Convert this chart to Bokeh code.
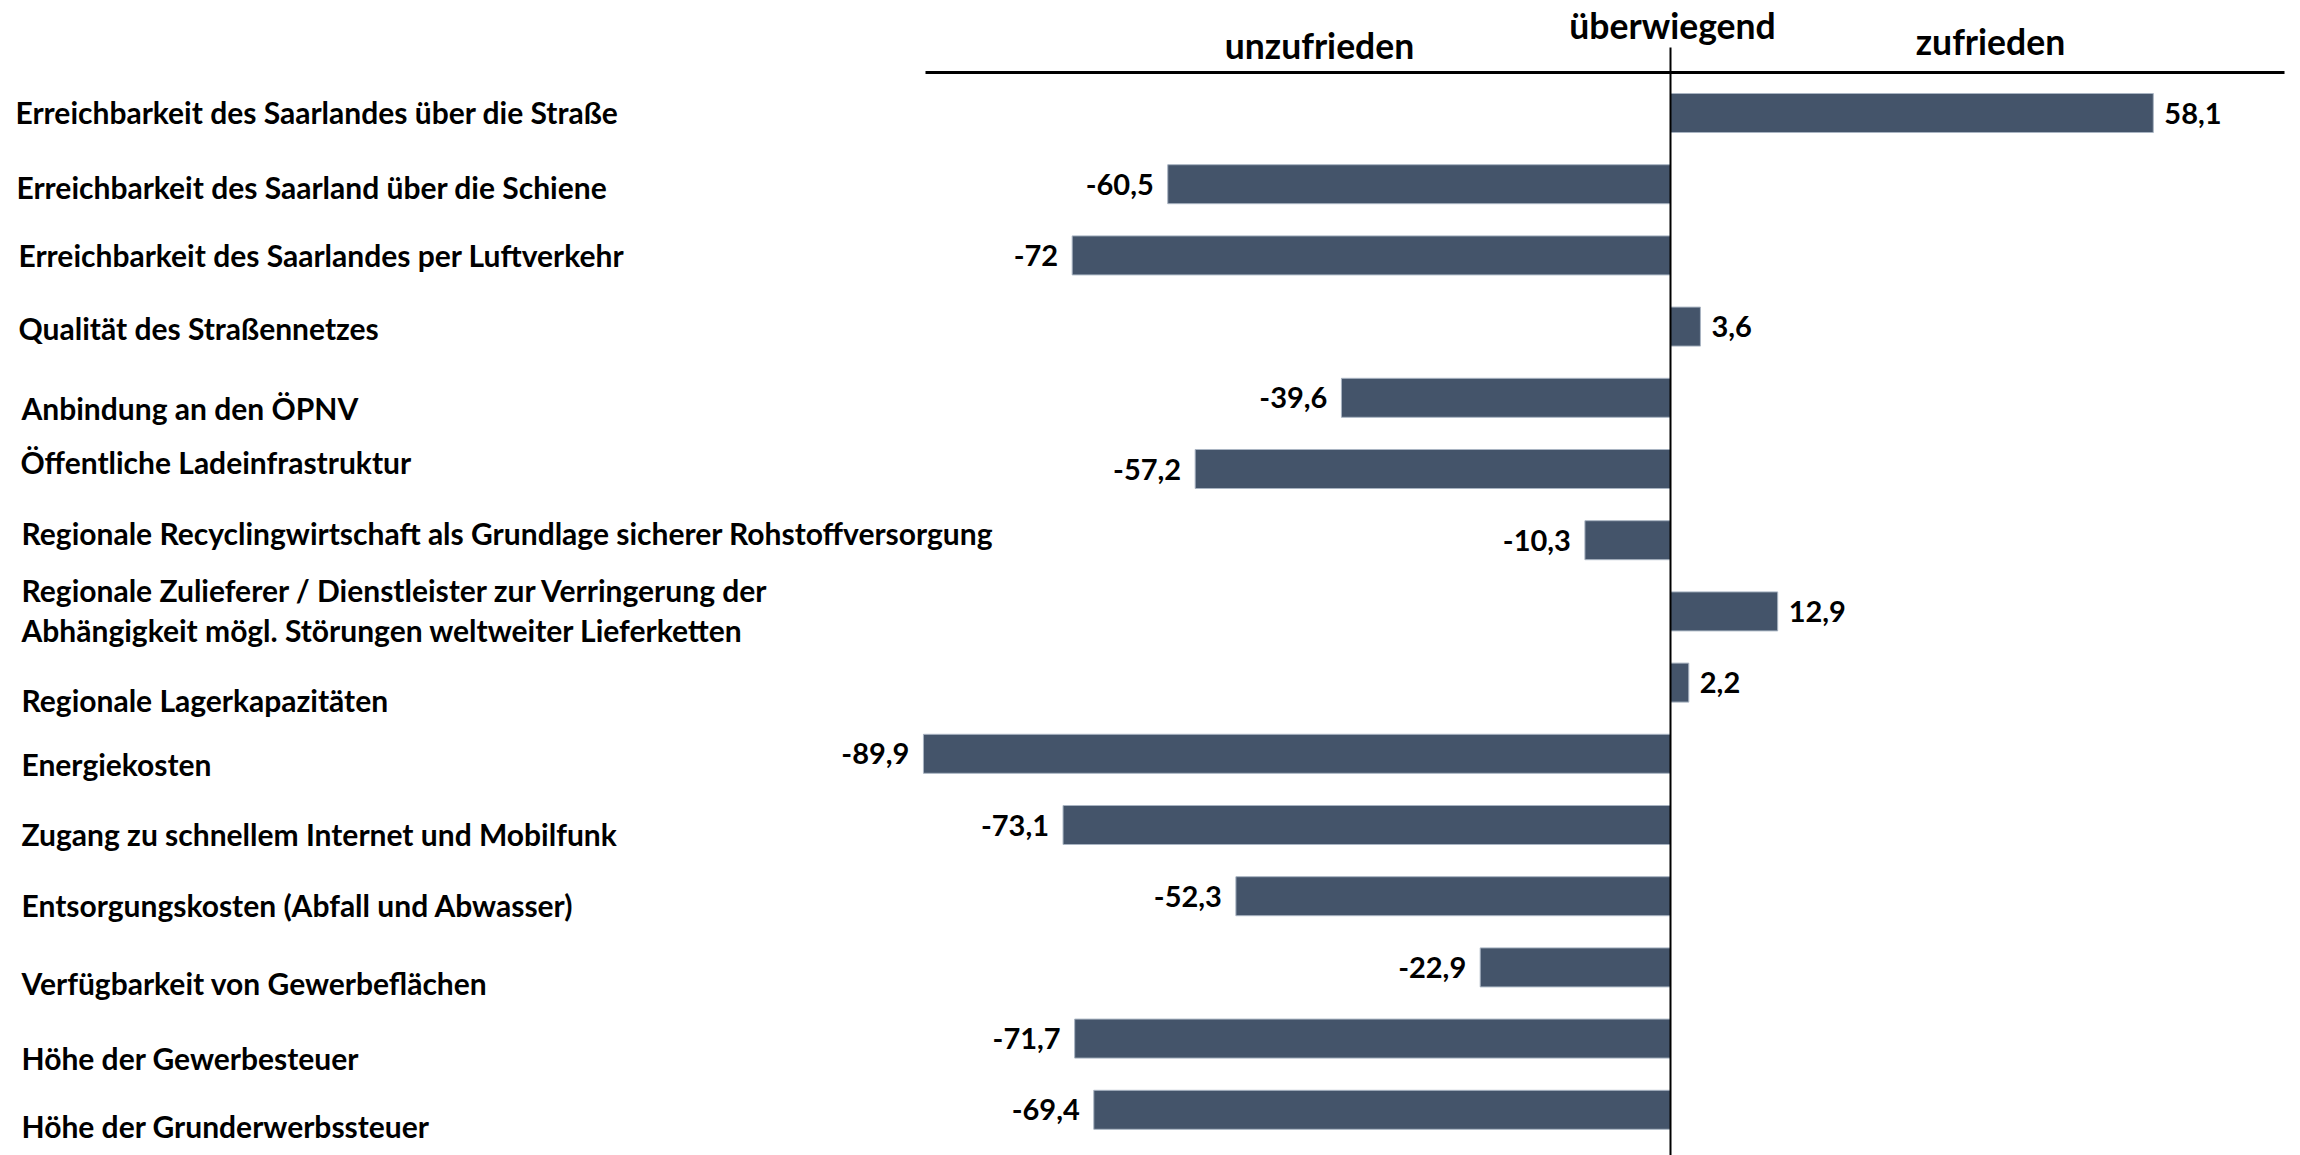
from bokeh.plotting import figure
from bokeh.models import Range1d, ColumnDataSource
from bokeh.core.properties import value
from bokeh.embed import file_html
from bokeh.resources import INLINE

# Satisfaction balance (share "zufrieden" minus "unzufrieden"), in percentage points
categories = [
    "Erreichbarkeit des Saarlandes über die Straße",
    "Erreichbarkeit des Saarland über die Schiene",
    "Erreichbarkeit des Saarlandes  per Luftverkehr",
    "Qualität des Straßennetzes",
    "Anbindung an den ÖPNV",
    "Öffentliche Ladeinfrastruktur",
    "Regionale Recyclingwirtschaft als Grundlage sicherer Rohstoffversorgung",
    "Regionale Zulieferer / Dienstleister zur Verringerung der\nAbhängigkeit mögl. Störungen weltweiter Lieferketten",
    "Regionale Lagerkapazitäten",
    "Energiekosten",
    "Zugang zu schnellem Internet und Mobilfunk",
    "Entsorgungskosten (Abfall und Abwasser)",
    "Verfügbarkeit von Gewerbeflächen",
    "Höhe der Gewerbesteuer",
    "Höhe der Grunderwerbssteuer",
]
balance = [58.1, -60.5, -72, 3.6, -39.6, -57.2, -10.3, 12.9, 2.2,
           -89.9, -73.1, -52.3, -22.9, -71.7, -69.4]
header_left = "unzufrieden"
header_mid = "überwiegend"
header_right = "zufrieden"

# ---- layout (pixels) ----
W, H = 2300, 1155
ZERO_PX = 1670          # horizontal position of the zero line
PX_PER_UNIT = 8.31      # pixels per percentage point
ROW0_PX = 112.5         # centre of the first row
ROW_STEP = 71.2         # distance between rows
BAR_PX = 39

BAR_COLOR = "#44546A"
FONT = value("Lato")

# small vertical shifts of the row captions (pixels)
label_dy_px = [-1.5, 3, 0, 1.5, 10, -7, -7, -1.5, 17.5, 10, 9, 9, 16, 19, 16]
label_x_px = [15, 16, 18, 18, 21, 20, 21, 21, 21, 21, 21, 21, 21, 21, 21]


def dx(px):
    return (px - ZERO_PX) / PX_PER_UNIT


def dy(py):
    return (py - ROW0_PX) / ROW_STEP


p = figure(
    width=W, height=H,
    x_range=Range1d(dx(0), dx(W)),
    y_range=Range1d(dy(H), dy(0)),
    output_backend="svg", toolbar_location=None,
    x_axis_location=None, y_axis_location=None,
    min_border=0, outline_line_color=None,
    background_fill_color="white", border_fill_color="white",
)
p.grid.visible = False

idx = list(range(len(categories)))

# bars
p.hbar(y=idx, left=0, right=balance, height=BAR_PX / ROW_STEP,
       fill_color=BAR_COLOR, line_color="#A9B4C2", line_width=1)

# value labels in German number format
def fmt(v):
    return f"{v:g}".replace(".", ",")

pos = [(i, v) for i, v in zip(idx, balance) if v >= 0]
neg = [(i, v) for i, v in zip(idx, balance) if v < 0]
src_pos = ColumnDataSource(dict(
    y=[i for i, _ in pos],
    x=[v + 11 / PX_PER_UNIT for _, v in pos],
    t=[fmt(v) for _, v in pos]))
src_neg = ColumnDataSource(dict(
    y=[i for i, _ in neg],
    x=[v - 14 / PX_PER_UNIT for _, v in neg],
    t=[fmt(v) for _, v in neg]))
for src, align in ((src_pos, "left"), (src_neg, "right")):
    p.text(x="x", y="y", text="t", source=src, text_font=FONT,
           text_font_style="bold", text_font_size="29px", text_color="black",
           text_align=align, text_baseline="middle")

# row captions
cap_src = ColumnDataSource(dict(
    x=[dx(px) for px in label_x_px],
    y=[i + d / ROW_STEP for i, d in zip(idx, label_dy_px)],
    t=categories))
p.text(x="x", y="y", text="t", source=cap_src, text_font=FONT,
       text_font_style="bold", text_font_size="30px", text_color="black",
       text_align="left", text_baseline="middle", text_line_height=1.12)

# header rule and zero line
p.segment(x0=[dx(925)], y0=[dy(72)], x1=[dx(2284)], y1=[dy(72)],
          line_color="black", line_width=3)
p.segment(x0=[0], y0=[dy(47)], x1=[0], y1=[dy(H)],
          line_color="black", line_width=2)

# header captions
hdr = ColumnDataSource(dict(
    x=[dx(1319), dx(1672), dx(1990)],
    y=[dy(45), dy(25), dy(41)],
    t=[header_left, header_mid, header_right]))
p.text(x="x", y="y", text="t", source=hdr, text_font=FONT,
       text_font_style="bold", text_font_size="35.5px", text_color="black",
       text_align="center", text_baseline="middle")

open("out.html", "w").write(file_html(p, INLINE))
